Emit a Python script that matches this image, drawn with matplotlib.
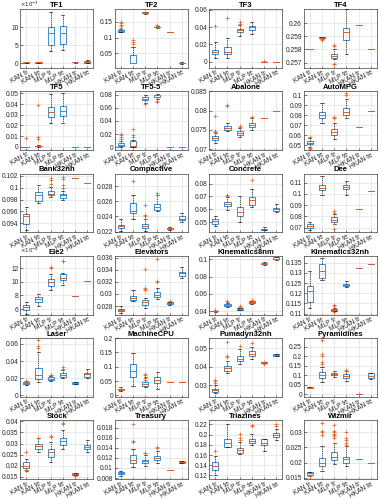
import matplotlib
matplotlib.use("Agg")
import matplotlib.pyplot as plt
from matplotlib.ticker import FixedLocator, FuncFormatter

categories = ["KAN tr", "KAN te", "MLP tr", "MLP te", "HKAN tr", "HKAN te"]

# each box: [lower whisker, Q1, median, Q3, upper whisker]
tf1_box = [[0.1, 0.2, 0.3, 0.4, 0.5], [0.1, 0.2, 0.3, 0.4, 0.5], [3.3, 5.1, 8.3, 10.0, 14.2],
           [3.6, 5.4, 8.3, 10.3, 13.3], [0.2, 0.3, 0.3, 0.3, 0.4], [0.1, 0.2, 0.4, 0.6, 0.8]]
tf1_out = [[], [], [], [], [], []]
tf1_unit = 1e-3

tf2_box = [[0.117, 0.118, 0.12, 0.123, 0.126], [0.019, 0.019, 0.02, 0.045, 0.071],
           [0.175, 0.176, 0.178, 0.179, 0.18], [0.131, 0.132, 0.133, 0.134, 0.135],
           [0.116, 0.116, 0.116, 0.116, 0.116], [0.018, 0.019, 0.02, 0.021, 0.022]]
tf2_out = [[0.13, 0.135, 0.14, 0.145, 0.15], [0.08, 0.086, 0.093], [0.182], [0.137, 0.139], [], []]

tf3_box = [[0.004, 0.009, 0.0116, 0.014, 0.0228], [0.004, 0.0088, 0.0116, 0.0168, 0.0276],
           [0.030, 0.0348, 0.0368, 0.0384, 0.043], [0.032, 0.037, 0.040, 0.041, 0.0456],
           [0, 0, 0, 0, 0], [0, 0, 0, 0, 0]]
tf3_out = [[0.041], [0.051], [0.044, 0.046], [], [0.0003], []]

tf4_box = [[0.258, 0.258, 0.258, 0.258, 0.258], [0.25885, 0.25888, 0.2589, 0.25892, 0.25895],
           [0.2573, 0.25738, 0.2575, 0.25765, 0.25805], [0.25765, 0.25873, 0.25934, 0.25966, 0.2611],
           [0.25985, 0.25985, 0.25985, 0.25985, 0.25985], [0.258, 0.258, 0.258, 0.258, 0.258]]
tf4_out = [[], [0.25883, 0.25878, 0.25875], [0.25835, 0.2583, 0.2569, 0.25685], [], [], []]

tf5_box = [[0, 0, 0, 0, 0], [0, 0.0003, 0.0008, 0.0012, 0.002],
           [0.0222, 0.0278, 0.0326, 0.0373, 0.0494], [0.0222, 0.0288, 0.0335, 0.038, 0.0506],
           [0, 0, 0, 0, 0], [0, 0, 0, 0, 0]]
tf5_out = [[0.008], [0.039, 0.009, 0.007], [], [], [], []]

tf55_box = [[0, 0.002, 0.0037, 0.006, 0.009], [0, 0.001, 0.002, 0.009, 0.0115],
            [0.067, 0.071, 0.074, 0.0758, 0.079], [0.073, 0.0758, 0.077, 0.08, 0.081],
            [0, 0, 0, 0, 0], [0, 0, 0, 0, 0]]
tf55_out = [[0.01, 0.012, 0.015, 0.018, 0.02], [0.016, 0.019, 0.028], [0.065], [0.07, 0.069], [], []]

abalone_box = [[0.0716, 0.0724, 0.0728, 0.0733, 0.0742], [0.0748, 0.075, 0.0754, 0.076, 0.0767],
               [0.0732, 0.0737, 0.0741, 0.0746, 0.0756], [0.075, 0.0757, 0.0763, 0.0767, 0.078],
               [0.0781, 0.0781, 0.0781, 0.0781, 0.0781], [0.08, 0.08, 0.08, 0.08, 0.08]]
abalone_out = [[0.0745, 0.0748, 0.0787], [0.0812, 0.0815], [0.0757, 0.076], [0.0783], [], []]

autompg_box = [[0.048, 0.0507, 0.0524, 0.0542, 0.057], [0.0717, 0.0773, 0.0804, 0.0832, 0.092],
               [0.0563, 0.0598, 0.063, 0.0657, 0.0717], [0.077, 0.0797, 0.0832, 0.0874, 0.096],
               [0.068, 0.068, 0.068, 0.068, 0.068], [0.0845, 0.0845, 0.0845, 0.0845, 0.0845]]
autompg_out = [[0.058, 0.047, 0.046], [], [0.077, 0.078, 0.0775], [0.1, 0.102], [], []]

bank_box = [[0.0929, 0.0939, 0.0952, 0.0956, 0.0968], [0.0975, 0.0978, 0.0987, 0.0992, 0.1004],
            [0.0985, 0.0987, 0.099, 0.0995, 0.1001], [0.0980, 0.0982, 0.0987, 0.099, 0.0995],
            [0.1016, 0.1016, 0.1016, 0.1016, 0.1016], [0.1008, 0.1008, 0.1008, 0.1008, 0.1008]]
bank_out = [[], [], [0.1007, 0.1013, 0.1017], [0.1, 0.1005, 0.1014, 0.1018], [], []]

compactive_box = [[0.0221, 0.0225, 0.0227, 0.0229, 0.0236], [0.0237, 0.0245, 0.0247, 0.0258, 0.0269],
                  [0.0221, 0.0225, 0.0227, 0.023, 0.0236], [0.0247, 0.0248, 0.0252, 0.0257, 0.0269],
                  [0.0222, 0.0223, 0.0224, 0.0225, 0.0226], [0.0233, 0.0235, 0.0237, 0.024, 0.0244]]
compactive_out = [[], [0.0287], [0.0255, 0.0242, 0.024, 0.0237], [0.0271, 0.0268], [], []]

concrete_box = [[0.0469, 0.0487, 0.0505, 0.0521, 0.0547], [0.0591, 0.0623, 0.0638, 0.0657, 0.0696],
                [0.05, 0.0547, 0.0578, 0.0617, 0.0704], [0.0618, 0.063, 0.067, 0.0696, 0.076],
                [0.0435, 0.0437, 0.0445, 0.0448, 0.046], [0.058, 0.0586, 0.06, 0.0612, 0.0644]]
concrete_out = [[], [0.0705, 0.0715], [], [0.083], [], []]

dee_box = [[0.0676, 0.07, 0.0715, 0.0736, 0.0752], [0.0988, 0.1033, 0.1048, 0.1079, 0.1155],
           [0.0736, 0.0752, 0.0767, 0.0791, 0.0821], [0.0988, 0.1039, 0.1058, 0.1079, 0.111],
           [0.0865, 0.0865, 0.0865, 0.0865, 0.0865], [0.1025, 0.1025, 0.1025, 0.1025, 0.1025]]
dee_out = [[], [], [0.085, 0.083, 0.069], [], [], []]

ele2_box = [[5.33, 5.82, 6.3, 6.54, 7.0], [6.5, 7.02, 7.5, 7.74, 8.2], [8.85, 9.42, 9.9, 10.38, 11.1],
            [9.5, 10.24, 10.6, 11.1, 11.35], [7.9, 7.9, 7.9, 7.9, 7.9], [10.1, 10.1, 10.1, 10.1, 10.1]]
ele2_out = [[], [], [12.0, 12.2], [13.0, 13.1], [], []]
ele2_unit = 1e-4

elev_box = [[0.0269, 0.02714, 0.0273, 0.02743, 0.028], [0.0289, 0.029, 0.0293, 0.0297, 0.0306],
            [0.0277, 0.0281, 0.0286, 0.029, 0.0294], [0.0291, 0.0295, 0.0299, 0.0303, 0.0309],
            [0.0282, 0.0283, 0.02845, 0.0286, 0.0287], [0.0327, 0.033, 0.0334, 0.0337, 0.0344]]
elev_out = [[], [], [0.0341, 0.0309, 0.0308, 0.0306], [0.0357, 0.0322, 0.032], [0.0289], []]

kin8_box = [[0.0392, 0.0395, 0.0398, 0.0402, 0.0405], [0.0448, 0.0456, 0.0468, 0.048, 0.0492],
            [0.041, 0.0412, 0.042, 0.0432, 0.044], [0.0485, 0.0488, 0.05, 0.0512, 0.0515],
            [0.0935, 0.094, 0.095, 0.096, 0.0965], [0.0995, 0.1, 0.1004, 0.102, 0.1025]]
kin8_out = [[0.041], [0.051, 0.052], [0.045, 0.046], [0.052, 0.053], [], []]

kin32_box = [[0.1125, 0.1158, 0.121, 0.1237, 0.1308], [0.1267, 0.1275, 0.1308, 0.1342, 0.1375],
             [0.1110, 0.1112, 0.1117, 0.1123, 0.1128], [0.1232, 0.1237, 0.1242, 0.1247, 0.1258],
             [0.1325, 0.1325, 0.1325, 0.1325, 0.1325], [0.1345, 0.1345, 0.1345, 0.1345, 0.1345]]
kin32_out = [[], [], [0.114, 0.1135, 0.1105], [], [], []]

laser_box = [[0.012, 0.0125, 0.014, 0.0151, 0.0165], [0.0151, 0.0189, 0.0234, 0.032, 0.051],
             [0.0168, 0.0177, 0.0189, 0.0208, 0.0226], [0.02, 0.0208, 0.0234, 0.0257, 0.03],
             [0.013, 0.0132, 0.0143, 0.0151, 0.0155], [0.02, 0.0215, 0.0245, 0.0264, 0.031]]
laser_out = [[0.016, 0.017], [0.055, 0.058, 0.065], [0.024, 0.023], [0.033, 0.031], [], []]

cpu_box = [[0.015, 0.0171, 0.02, 0.0229, 0.0286], [0.0343, 0.0629, 0.0857, 0.1086, 0.1486],
           [0.028, 0.032, 0.04, 0.0457, 0.065], [0.0229, 0.0423, 0.0537, 0.0629, 0.08],
           [0.045, 0.045, 0.045, 0.045, 0.045], [0.045, 0.045, 0.045, 0.045, 0.045]]
cpu_out = [[], [], [0.075, 0.07, 0.06, 0.055], [], [], []]

puma_box = [[0.0255, 0.0264, 0.0273, 0.0281, 0.0299], [0.0366, 0.0379, 0.0391, 0.0405, 0.0432],
            [0.0415, 0.0428, 0.0441, 0.0458, 0.0494], [0.044, 0.0455, 0.0467, 0.0485, 0.0508],
            [0.0418, 0.0418, 0.042, 0.0423, 0.0423], [0.0458, 0.0458, 0.0463, 0.0467, 0.0467]]
puma_out = [[0.031, 0.032, 0.033], [0.045, 0.0455, 0.0535], [0.0511], [0.053], [0.0425, 0.0415], []]

pyr_box = [[0.033, 0.035, 0.036, 0.038, 0.039], [0.066, 0.084, 0.1, 0.119, 0.145],
           [0.093, 0.101, 0.107, 0.114, 0.122], [0.072, 0.084, 0.096, 0.107, 0.122],
           [0, 0, 0, 0, 0], [0.08, 0.084, 0.096, 0.11, 0.114]]
pyr_out = [[], [0.16, 0.17, 0.2, 0.21, 0.285], [], [0.13, 0.125], [0.002], []]

stock_box = [[0.0177, 0.0192, 0.02, 0.0215, 0.023], [0.026, 0.0276, 0.0288, 0.0298, 0.0324],
             [0.0215, 0.0238, 0.026, 0.0276, 0.0306], [0.0276, 0.0295, 0.0311, 0.0324, 0.0359],
             [0.0158, 0.0159, 0.0164, 0.0167, 0.0168], [0.026, 0.0276, 0.0286, 0.0294, 0.0314]]
stock_out = [[0.0264, 0.0183, 0.018], [0.0325], [0.0332, 0.0328], [0.039, 0.0395], [0.0155], []]

treas_box = [[0.0085, 0.0088, 0.009, 0.0093, 0.0095], [0.0101, 0.011, 0.0116, 0.0126, 0.0137],
             [0.0103, 0.0109, 0.0113, 0.0116, 0.0125], [0.0109, 0.0115, 0.0119, 0.0123, 0.0134],
             [0.0096, 0.0096, 0.0096, 0.0096, 0.0096], [0.0109, 0.011, 0.0111, 0.0113, 0.0114]]
treas_out = [[], [0.0152, 0.0153, 0.0188], [0.0129, 0.013], [0.0141, 0.014], [], []]

triaz_box = [[0.12, 0.1298, 0.138, 0.146, 0.159], [0.1755, 0.1755, 0.1834, 0.192, 0.221],
             [0.162, 0.1638, 0.169, 0.1736, 0.185], [0.18, 0.1834, 0.1873, 0.1906, 0.2017],
             [0.167, 0.1788, 0.184, 0.1906, 0.1906], [0.1886, 0.1952, 0.1985, 0.2037, 0.21]]
triaz_out = [[0.168], [], [0.19, 0.193, 0.202], [0.216, 0.219], [], [0.216, 0.221]]

wiz_box = [[0.0157, 0.016, 0.0166, 0.0168, 0.017], [0.0173, 0.0189, 0.02, 0.0216, 0.0254],
           [0.0195, 0.0209, 0.0219, 0.0234, 0.0264], [0.0189, 0.02, 0.0211, 0.0219, 0.0254],
           [0.0211, 0.0211, 0.0211, 0.0211, 0.0211], [0.0198, 0.0198, 0.0198, 0.0198, 0.0198]]
wiz_out = [[0.0157], [0.029, 0.03, 0.0305, 0.033], [0.028, 0.0288, 0.029, 0.0295, 0.03, 0.0305, 0.0322],
           [0.0258, 0.0265, 0.0275, 0.028, 0.03], [], []]

titles = ["TF1", "TF2", "TF3", "TF4", "TF5", "TF5-5", "Abalone", "AutoMPG",
          "Bank32nh", "Compactive", "Concrete", "Dee", "Ele2", "Elevators",
          "Kinematics8nm", "Kinematics32nh", "Laser", "MachineCPU", "Pumadyn32nh",
          "Pyramidines", "Stock", "Treasury", "Triazines", "Wizmir"]

yticks = [[0, 5e-3, 10e-3], [0.05, 0.1, 0.15], [0, 0.02, 0.04, 0.06], [0.257, 0.258, 0.259, 0.26],
          [0, 0.01, 0.02, 0.03, 0.04, 0.05], [0, 0.02, 0.04, 0.06, 0.08],
          [0.07, 0.075, 0.08, 0.085], [0.05, 0.06, 0.07, 0.08, 0.09, 0.1],
          [0.094, 0.096, 0.098, 0.1, 0.102], [0.022, 0.024, 0.026, 0.028],
          [0.05, 0.06, 0.07, 0.08], [0.07, 0.08, 0.09, 0.1, 0.11],
          [6e-4, 8e-4, 10e-4, 12e-4], [0.028, 0.03, 0.032, 0.034, 0.036],
          [0.04, 0.06, 0.08, 0.1], [0.11, 0.115, 0.12, 0.125, 0.13, 0.135],
          [0, 0.02, 0.04, 0.06], [0, 0.05, 0.1, 0.15, 0.2], [0.03, 0.04, 0.05],
          [0, 0.05, 0.1, 0.15, 0.2, 0.25], [0.015, 0.02, 0.025, 0.03, 0.035, 0.04],
          [0.008, 0.01, 0.012, 0.014, 0.016, 0.018], [0.12, 0.14, 0.16, 0.18, 0.2, 0.22],
          [0.015, 0.02, 0.025, 0.03]]

boxes = [tf1_box, tf2_box, tf3_box, tf4_box, tf5_box, tf55_box, abalone_box, autompg_box,
         bank_box, compactive_box, concrete_box, dee_box, ele2_box, elev_box, kin8_box, kin32_box,
         laser_box, cpu_box, puma_box, pyr_box, stock_box, treas_box, triaz_box, wiz_box]
outs = [tf1_out, tf2_out, tf3_out, tf4_out, tf5_out, tf55_out, abalone_out, autompg_out,
        bank_out, compactive_out, concrete_out, dee_out, ele2_out, elev_out, kin8_out, kin32_out,
        laser_out, cpu_out, puma_out, pyr_out, stock_out, treas_out, triaz_out, wiz_out]
units = {0: tf1_unit, 12: ele2_unit}
unit_exp = {0: -3, 12: -4}

# layout (axis ranges)
ylims = [(-0.0012, 0.015), (0.005, 0.19), (-0.007, 0.061), (0.2566, 0.2611),
         (-0.003, 0.052), (-0.004, 0.085), (0.0698, 0.085), (0.045, 0.104),
         (0.0925, 0.1024), (0.0219, 0.0297), (0.042, 0.088), (0.066, 0.118),
         (5.2e-4, 13.8e-4), (0.0266, 0.0363), (0.036, 0.104), (0.1095, 0.1385),
         (-0.002, 0.067), (-0.005, 0.2), (0.0237, 0.0555), (-0.012, 0.295),
         (0.014, 0.0405), (0.0078, 0.0195), (0.113, 0.228), (0.0146, 0.0339)]

BLUE = "#3d8fd6"
ORANGE = "#e0601f"

plt.rcParams["font.family"] = ["Liberation Sans", "DejaVu Sans"]
fig, axes = plt.subplots(6, 4, figsize=(3.80, 4.99), dpi=100)
fig.subplots_adjust(left=0.053, right=0.992, top=0.982, bottom=0.04, wspace=0.29, hspace=0.40)

for i, ax in enumerate(axes.flat):
    u = units.get(i, 1.0)
    stats = []
    for b, o in zip(boxes[i], outs[i]):
        stats.append(dict(whislo=b[0] * u, q1=b[1] * u, med=b[2] * u, q3=b[3] * u,
                          whishi=b[4] * u, fliers=[v * u for v in o]))
    ax.bxp(stats, positions=range(1, 7), widths=0.5, capwidths=0.25,
           boxprops=dict(color=BLUE, lw=0.7),
           medianprops=dict(color=ORANGE, lw=0.7),
           whiskerprops=dict(color="k", lw=0.45, ls=(0, (2, 1.5))),
           capprops=dict(color="k", lw=0.45),
           flierprops=dict(marker="+", markeredgecolor=ORANGE, markersize=3, markeredgewidth=0.5,
                           linestyle="none"))
    ax.set_xlim(0.5, 6.5)
    ax.set_ylim(*ylims[i])
    ax.set_title(titles[i], fontsize=5.5, fontweight="bold", pad=1.5)
    ax.set_xticks(range(1, 7))
    ax.set_xticklabels(categories, rotation=30, ha="right", rotation_mode="anchor", fontsize=4.0)
    ax.yaxis.set_major_locator(FixedLocator(yticks[i]))
    if i in units:
        e = unit_exp[i]
        ax.yaxis.set_major_formatter(FuncFormatter(lambda v, p, e=e: "%g" % round(v / 10 ** e, 6)))
        ax.text(0.0, 1.005, r"$\times10^{%d}$" % e, transform=ax.transAxes, fontsize=4.0,
                ha="left", va="bottom", color="#262626")
    else:
        ax.yaxis.set_major_formatter(FuncFormatter(lambda v, p: "%g" % round(v, 6)))
    ax.tick_params(axis="both", which="major", direction="in", length=1.8, width=0.4,
                   labelsize=4.8, pad=1.2, colors="#262626")
    ax.tick_params(axis="x", pad=1.0)
    ax.grid(True, color="#dcdcdc", lw=0.45)
    ax.set_axisbelow(True)
    for s in ax.spines.values():
        s.set_linewidth(0.45)
        s.set_color("#262626")

fig.savefig("out.png", dpi=100)
